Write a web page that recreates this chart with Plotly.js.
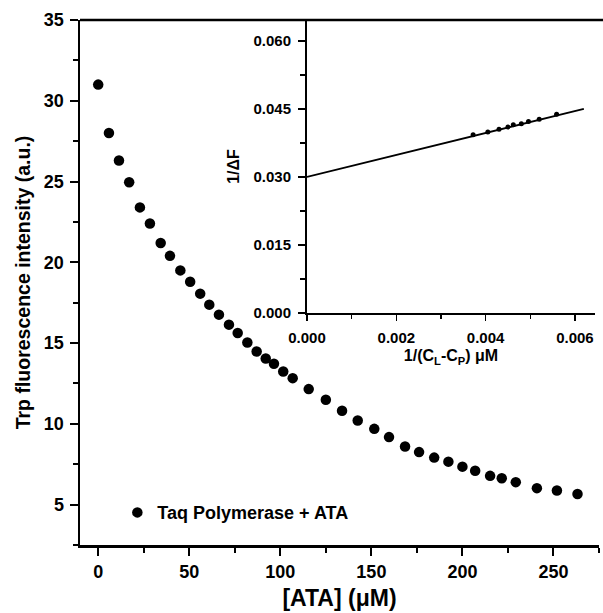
<!DOCTYPE html>
<html>
<head>
<meta charset="utf-8">
<script src="https://cdn.plot.ly/plotly-3.0.1.min.js"></script>
<style>html,body{margin:0;padding:0;background:#fff;}#chart{width:603px;height:613px;}</style>
</head>
<body>
<div id="chart"></div>
<script>
// Main titration data: [ATA] (µM) vs Trp fluorescence intensity (a.u.)
var ataConc = [0, 5.9, 11.4, 17, 22.9, 28.4, 34.3, 39.4, 45.1, 50.5, 56, 61, 66.3, 71.8, 76.6, 81.9, 87, 92, 96.5, 101.6, 106.8, 115.6, 125, 133.9, 142.5, 151.6, 159.7, 168.5, 176.2, 184.5, 192.3, 200, 207, 215.2, 221.6, 229.3, 240.9, 251.9, 263.2];
var trpFluor = [31.0, 28.0, 26.3, 24.96, 23.4, 22.4, 21.2, 20.4, 19.5, 18.8, 18.06, 17.38, 16.76, 16.14, 15.62, 15.04, 14.48, 14.05, 13.72, 13.24, 12.83, 12.15, 11.49, 10.81, 10.21, 9.69, 9.18, 8.6, 8.25, 7.91, 7.66, 7.35, 7.1, 6.78, 6.63, 6.39, 6.02, 5.87, 5.66];
var seriesName = "Taq Polymerase + ATA";

// Inset: double reciprocal plot
var insetX = [0.00372, 0.00405, 0.0043, 0.0045, 0.00462, 0.0048, 0.00496, 0.0052, 0.00559];
var insetY = [0.0393, 0.0399, 0.0405, 0.0410, 0.0415, 0.0417, 0.0422, 0.0427, 0.0438];
var fitX = [0, 0.0062];
var fitY = [0.0300, 0.0450];

var FONT = "Arial, 'Liberation Sans', sans-serif";
var BLACK = "#000";

var traces = [
  {
    x: ataConc, y: trpFluor, type: "scatter", mode: "markers", name: seriesName,
    marker: {color: BLACK, size: 10.5, symbol: "circle"},
    xaxis: "x", yaxis: "y", showlegend: true
  },
  {
    x: fitX, y: fitY, type: "scatter", mode: "lines",
    line: {color: BLACK, width: 1.8},
    xaxis: "x2", yaxis: "y2", showlegend: false
  },
  {
    x: insetX, y: insetY, type: "scatter", mode: "markers",
    marker: {color: BLACK, size: 5},
    xaxis: "x2", yaxis: "y2", showlegend: false
  }
];

var layout = {
  width: 603, height: 613,
  margin: {l: 80, r: 4, t: 20, b: 68, pad: 0},
  paper_bgcolor: "#fff", plot_bgcolor: "rgba(0,0,0,0)",
  font: {family: FONT, color: BLACK},
  showlegend: true,
  legend: {
    x: 0.072, y: 0.0615, xanchor: "left", yanchor: "middle",
    bgcolor: "rgba(0,0,0,0)", borderwidth: 0,
    font: {family: FONT, size: 18, color: BLACK, weight: "bold"}
  },
  xaxis: {
    domain: [0, 1], range: [-10, 275], anchor: "y",
    showgrid: false, zeroline: false,
    showline: true, linecolor: BLACK, linewidth: 2.5, mirror: false,
    ticks: "outside", ticklen: 8, tickwidth: 2, tickcolor: BLACK,
    tick0: 0, dtick: 50,
    minor: {ticks: "outside", ticklen: 5, tickwidth: 2, tickcolor: BLACK, dtick: 25},
    tickfont: {family: FONT, size: 18, color: BLACK, weight: "bold"},
    ticklabelstandoff: 1,
    title: {text: "[ATA] (\u03bcM)", font: {family: FONT, size: 23, color: BLACK, weight: "bold"}, standoff: 9}
  },
  yaxis: {
    domain: [0, 1], range: [2.5, 35], anchor: "x",
    showgrid: false, zeroline: false,
    showline: true, linecolor: BLACK, linewidth: 2.5, mirror: false,
    ticks: "outside", ticklen: 8, tickwidth: 2, tickcolor: BLACK,
    tick0: 0, dtick: 5,
    minor: {ticks: "outside", ticklen: 5, tickwidth: 2, tickcolor: BLACK, dtick: 2.5},
    tickfont: {family: FONT, size: 18, color: BLACK, weight: "bold"},
    ticklabelstandoff: 2,
    title: {text: "Trp fluorescence intensity (a.u.)", font: {family: FONT, size: 19.5, color: BLACK, weight: "bold"}, standoff: 8}
  },
  xaxis2: {
    domain: [0.4374, 0.9923], range: [0, 0.00645], anchor: "y2",
    showgrid: false, zeroline: false,
    showline: true, linecolor: BLACK, linewidth: 2, mirror: false,
    ticks: "outside", ticklen: 6, tickwidth: 1.5, tickcolor: BLACK,
    tick0: 0, dtick: 0.002, tickformat: ".3f",
    minor: {ticks: "outside", ticklen: 4, tickwidth: 1.5, tickcolor: BLACK, dtick: 0.001},
    tickfont: {family: FONT, size: 15, color: BLACK, weight: "bold"},
    ticklabelstandoff: 4,
    title: {text: "1/(C<sub>L</sub>-C<sub>P</sub>) \u03bcM", font: {family: FONT, size: 16, color: BLACK, weight: "bold"}, standoff: 5}
  },
  yaxis2: {
    domain: [0.4419, 1], range: [0, 0.0646], anchor: "x2",
    showgrid: false, zeroline: false,
    showline: true, linecolor: BLACK, linewidth: 2, mirror: false,
    ticks: "outside", ticklen: 7, tickwidth: 1.5, tickcolor: BLACK,
    tick0: 0, dtick: 0.015, tickformat: ".3f",
    minor: {ticks: "outside", ticklen: 5, tickwidth: 1.5, tickcolor: BLACK, dtick: 0.0075},
    tickfont: {family: FONT, size: 15, color: BLACK, weight: "bold"},
    ticklabelstandoff: 4,
    title: {text: "1/\u0394F", font: {family: FONT, size: 16, color: BLACK, weight: "bold"}, standoff: 10}
  },
  shapes: [
    {type: "line", xref: "paper", yref: "paper", x0: 0, x1: 1.02, y0: 1, y1: 1,
     line: {color: BLACK, width: 2.5}}
  ]
};

Plotly.newPlot("chart", traces, layout, {displayModeBar: false, staticPlot: true});
</script>
</body>
</html>
